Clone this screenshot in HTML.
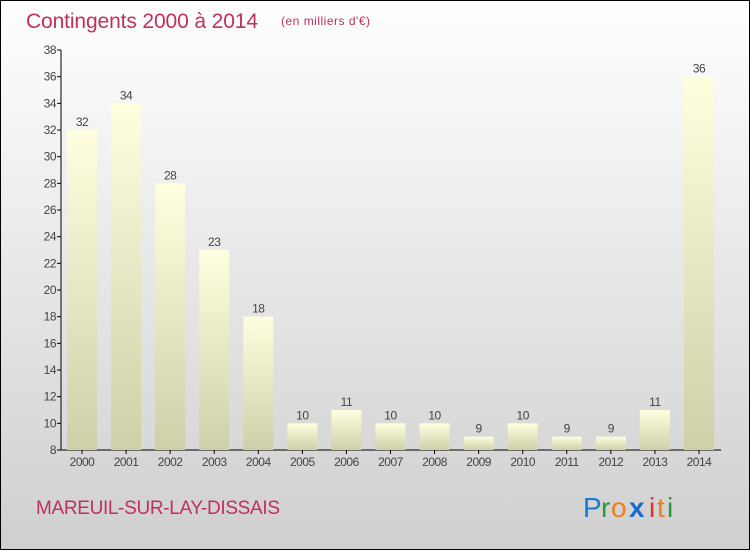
<!DOCTYPE html>
<html><head><meta charset="utf-8"><style>
html,body{margin:0;padding:0}
body{width:750px;height:550px;overflow:hidden;font-family:"Liberation Sans",sans-serif}
</style></head><body>
<svg width="750" height="550" xmlns="http://www.w3.org/2000/svg">
<defs>
<linearGradient id="bg" x1="0" y1="0" x2="0" y2="1"><stop offset="0" stop-color="#ffffff"/><stop offset="1" stop-color="#cfcfcf"/></linearGradient>
<linearGradient id="bar" x1="0" y1="0" x2="0" y2="1"><stop offset="0" stop-color="#ffffe0"/><stop offset="1" stop-color="#cfcfa8"/></linearGradient>
</defs>
<rect x="0.5" y="0.5" width="749" height="549" fill="url(#bg)" stroke="#000"/>
<text x="26" y="28" font-size="21" fill="#c0305a" textLength="232">Contingents 2000 à 2014</text>
<text x="281" y="25" font-size="12" fill="#c0305a" textLength="89">(en milliers d'€)</text>
<g id="axes"></g>
<g id="bars"></g>
<text x="36" y="514" font-size="19" fill="#c0305a" textLength="244">MAREUIL-SUR-LAY-DISSAIS</text>
<g font-size="28" font-family="'Liberation Sans',sans-serif">
<text x="583" y="517" fill="#1a7ad0">P</text><text x="601" y="517" fill="#2a9a3a">r</text><text x="611" y="517" fill="#f08010">o</text><text x="629" y="517" fill="#1a6ad0" font-weight="bold">x</text><text x="649" y="517" fill="#e03030">i</text><text x="657" y="517" fill="#f08010">t</text><text x="667" y="517" fill="#2a9a3a">i</text>
</g>
</svg>
<script>
const categories=["2000","2001","2002","2003","2004","2005","2006","2007","2008","2009","2010","2011","2012","2013","2014"];
const values=[32,34,28,23,18,10,11,10,10,9,10,9,9,11,36];
const yTicks=[8,10,12,14,16,18,20,22,24,26,28,30,32,34,36,38];
const NS="http://www.w3.org/2000/svg";
const y=v=>450-(v-8)*400/30;
const x=i=>67+i*44.07;
function mk(t,a,p,txt){const e=document.createElementNS(NS,t);for(const k in a)e.setAttribute(k,a[k]);if(txt!==undefined)e.textContent=txt;p.appendChild(e);return e;}
const ax=document.getElementById('axes'),bg=document.getElementById('bars');
yTicks.forEach(v=>{
 const l=mk('line',{x1:57,x2:61,y1:y(v),y2:y(v),stroke:'#000'},ax);
 
 
 const t=mk('text',{x:56,y:y(v)+4,'font-size':12,fill:'#444','text-anchor':'end','letter-spacing':'-0.5'},ax,String(v));
 
 
});
const ya=mk('line',{x1:61,x2:61,y1:50,y2:450,stroke:'#000'},ax);


values.forEach((v,i)=>{
 const r=mk('rect',{x:x(i),y:y(v),width:30,height:450-y(v),fill:'url(#bar)'},bg);
 
 
 const t=mk('text',{x:x(i)+15,y:y(v)-4,'font-size':12,fill:'#444','text-anchor':'middle','letter-spacing':'-0.5'},bg,String(v));
 
 
 const tk=mk('line',{x1:x(i)+15,x2:x(i)+15,y1:450,y2:454,stroke:'#000'},bg);
 
 
 const c=mk('text',{x:x(i)+15,y:466,'font-size':12,fill:'#444','text-anchor':'middle','letter-spacing':'-0.5'},bg,categories[i]);
 
 
});
const xa=mk('line',{x1:61,x2:721,y1:450,y2:450,stroke:'#000'},ax);


</script>
</body></html>
